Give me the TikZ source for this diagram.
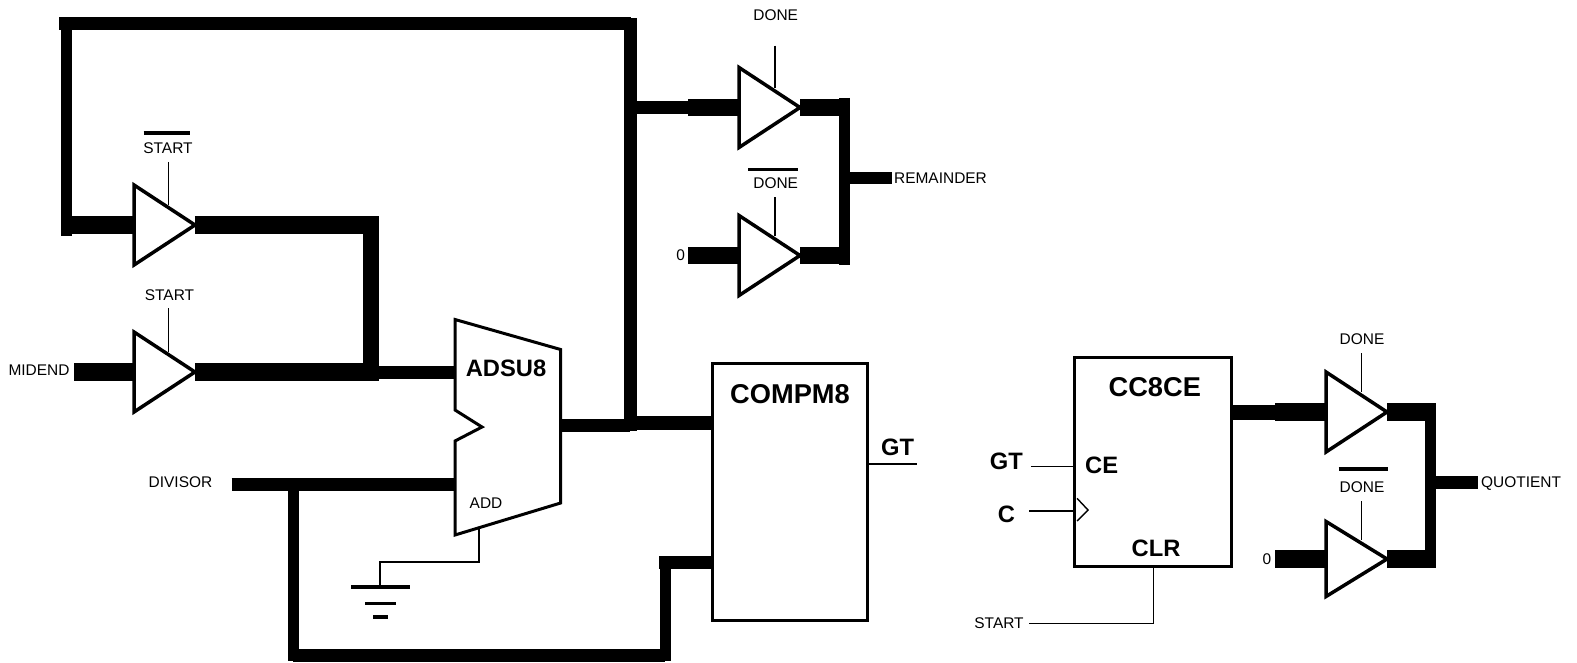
\documentclass[tikz,border=0pt]{standalone}
\usepackage{fontspec}
\setmainfont{Liberation Sans}
\usetikzlibrary{shapes,positioning,calc}

\tikzset{
    bus/.style={line width=0.26cm},
    fatbus/.style={line width=0.36cm},
    thinbus/.style={line width=0.22cm},
    sig/.style={line width=0.028cm},
    bar/.style={line width=0.07cm},
    outline/.style={draw,line width=0.06cm},
    buffer/.style={isosceles triangle,isosceles triangle stretches,shape border rotate=0,
        draw,line width=0.07cm,fill=white,inner sep=0pt,outer sep=0pt,anchor=lower side,
        minimum width=1.6cm,minimum height=1.22cm},
    lbl/.style={inner sep=0pt,font=\fontsize{8.8}{10}\selectfont},
    biglbl/.style={inner sep=0pt,font=\fontsize{13.5}{15}\selectfont\bfseries},
    hugelbl/.style={inner sep=0pt,font=\fontsize{15.5}{17}\selectfont\bfseries}
}

\begin{document}
\begin{tikzpicture}[x=0.02cm,y=-0.02cm]
    \useasboundingbox (0,0) rectangle (1577,662);

    % Feedback loop
    \coordinate (loopr) at (630.5,23.6);
    \coordinate (loopa) at (58.5,23.6);
    \coordinate (loopb) at (66.6,18);
    \coordinate (loopc) at (66.6,236);
    \coordinate (junct) at (630.5,431);

    % Buffers
    \foreach \n/\x/\y in {bufstart/134/225,bufmid/134/372,bufrem/739/107.5,bufzero/739/255.5,bufquot/1326/412} {
        \node[buffer] (\n) at (\x,\y) {};
    }
    \node[buffer,minimum width=1.5cm] (bufqzero) at (1326,559) {};

    % Adder
    \coordinate (addtl) at (455,319.5);
    \coordinate (addtr) at (560.6,349.5);
    \coordinate (addbr) at (560.6,503);
    \coordinate (addbl) at (455,535);
    \coordinate (adda) at (455,372);
    \coordinate (addb) at (455,484);
    \coordinate (addo) at (560.6,425);
    \coordinate (addc) at (479,529);
    \draw[outline,line join=miter] (addtl) -- (addtr) -- (addbr) -- (addbl) -- (455,441) -- (482,427) -- (455,410) -- cycle;
    \node[biglbl] (addname) at (506,368) {ADSU8};
    \node[lbl] (addadd) at (486,503) {ADD};

    % Comparator
    \node[outline,minimum width=3.1cm,minimum height=5.13cm,inner sep=0pt] (comp) at (790,492) {};
    \node[hugelbl] (compname) at (790,394.5) {COMPM8};
    \node[biglbl] (gta) at (897.7,447) {GT};
    \coordinate (gtaend) at (916.7,464);
    \draw[sig] (gtaend -| comp.east) -- (gtaend);

    % Counter
    \node[outline,minimum width=3.13cm,minimum height=4.2cm,inner sep=0pt] (count) at (1153.2,462) {};
    \node[hugelbl] (countname) at (1154.8,387.5) {CC8CE};
    \node[biglbl] (gtb) at (1006.4,461) {GT};
    \node[biglbl] (ce) at (1101.7,465) {CE};
    \node[biglbl] (cin) at (1006.4,514) {C};
    \node[biglbl] (clr) at (1156,548) {CLR};
    \coordinate (gtbend) at (1030.8,466.7);
    \coordinate (cinend) at (1029,511);
    \coordinate (clrend) at (1029,623.3);
    \draw[sig] (gtbend) -- (gtbend -| count.west);
    \draw[sig] (cinend) -- (cinend -| count.west);
    \draw[sig] (clrend) -- (count.south |- clrend) -- (count.south);
    \draw[sig] (1077,498.3) -- (1088,510) -- (1077,521);

    % Wide wires, left side
    \draw[thinbus] (loopb) -- (loopc);
    \draw[bus] (junct) -- (630.5,18);
    \draw[bus] (loopr) -- (loopa);
    \coordinate (sa) at (72,225);
    \draw[fatbus] (sa) -- (bufstart.lower side);
    \draw[fatbus] (bufstart.apex) -- (379,225);
    \draw[fatbus,line width=0.32cm] (371,216) -- (371,381);
    \coordinate (mi) at (74,372);
    \draw[fatbus] (mi) -- (bufmid.lower side);
    \draw[fatbus] (bufmid.apex) -- (363,372);
    \draw[bus] (363,372) -- (adda);
    \coordinate (da) at (231.5,484);
    \draw[bus] (da) -- (addb);
    \coordinate (db) at (293,484);
    \draw[thinbus,line join=miter] (db) -- (293,655) -- (665,655) -- (665,562.5);
    \draw[bus] (293,655) -- (665,655);
    \coordinate (cb) at (659,562.5);
    \draw[bus] (cb) -- (cb -| comp.west);
    \draw[bus] (addo) -- (630,425);
    \coordinate (ca) at (630,423);
    \draw[bus,line width=0.28cm] (ca) -- (ca -| comp.west);

    % Wide wires, remainder side
    \coordinate (ra) at (636,107.5);
    \coordinate (rb) at (688,107.5);
    \draw[bus] (ra) -- (rb);
    \draw[fatbus] (rb) -- (bufrem.lower side);
    \coordinate (za) at (688,255.5);
    \draw[fatbus] (za) -- (bufzero.lower side);
    \draw[fatbus] (bufrem.apex) -- (849,107.5);
    \draw[fatbus] (bufzero.apex) -- (849,255.5);
    \draw[thinbus] (844,98) -- (844,264.5);
    \coordinate (rc) at (849,178);
    \coordinate (rd) at (891.7,178);
    \draw[bus] (rc) -- (rd);

    % Wide wires, quotient side
    \coordinate (qa) at (1275,412);
    \coordinate (qb) at (1275,559);
    \draw[bus,line width=0.3cm] (count.east |- qa) -- (qa);
    \draw[fatbus] (qa) -- (bufquot.lower side);
    \draw[fatbus] (qb) -- (bufqzero.lower side);
    \draw[fatbus] (bufquot.apex) -- (1435,412);
    \draw[fatbus] (bufqzero.apex) -- (1435,559);
    \draw[thinbus] (1430,403) -- (1430,568);
    \coordinate (qc) at (1435,482);
    \coordinate (qd) at (1477.5,482);
    \draw[bus] (qc) -- (qd);

    % Enable lines
    \foreach \t/\x/\y/\b in {ena/168.5/162/bufstart,enb/168.5/308/bufmid,enc/775/45.6/bufrem,end/775/197/bufzero,ene/1361.5/353/bufquot,enf/1361.5/501/bufqzero} {
        \coordinate (\t) at (\x,\y);
        \draw[sig] (\t) -- (\t |- \b.left side);
    }

    % Small labels
    \node[lbl] (nstart) at (168,148) {START};
    \node[lbl] (start) at (169.5,295.5) {START};
    \node[lbl] (midend) at (39,370) {MIDEND};
    \node[lbl] (divisor) at (180.5,482) {DIVISOR};
    \node[lbl] (done) at (775.7,15) {DONE};
    \node[lbl] (ndone) at (775.7,183) {DONE};
    \node[lbl] (zero) at (680.7,255) {0};
    \node[lbl] (rem) at (940.5,178) {REMAINDER};
    \node[lbl] (qdone) at (1362,339) {DONE};
    \node[lbl] (nqdone) at (1362,486.7) {DONE};
    \node[lbl] (qzero) at (1267,559) {0};
    \node[lbl] (quot) at (1521,484) {QUOTIENT};
    \node[lbl] (cstart) at (999,623) {START};

    % Bars over the inverted names
    \draw[bar] (143.5,133) -- (190,133);
    \draw[bar] (748,169.7) -- (798,169.7);
    \draw[bar] (1338.6,469) -- (1388,469);

    % Ground
    \coordinate (gnd) at (380,587);
    \draw[sig] (addc) -- (479,562) -- (380,562) -- (gnd);
    \foreach \a/\b/\y in {351/410/587,365/396/603.6,373/388/617} {
        \draw[bar] (\a,\y) -- (\b,\y);
    }
\end{tikzpicture}
\end{document}
